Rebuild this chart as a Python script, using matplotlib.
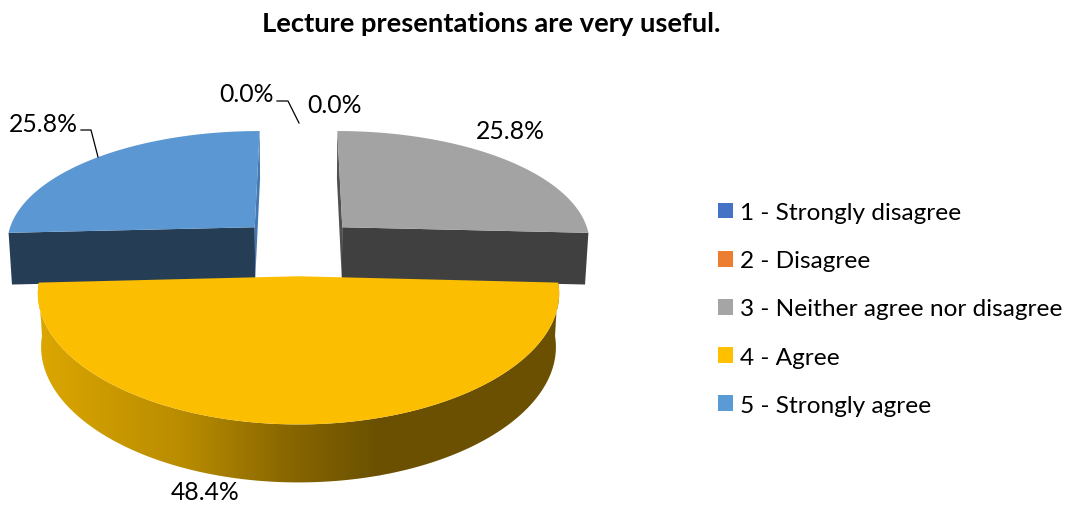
import numpy as np
import matplotlib
matplotlib.use("Agg")
import matplotlib.pyplot as plt
from matplotlib.colors import LinearSegmentedColormap
from matplotlib.patches import Patch, Polygon

plt.rcParams['font.family'] = ['Lato', 'DejaVu Sans']

# Data
categories = ["1 - Strongly disagree", "2 - Disagree", "3 - Neither agree nor disagree",
              "4 - Agree", "5 - Strongly agree"]
values = [0.0, 0.0, 25.8, 48.4, 25.8]
colors = ["#4472C4", "#ED7D31", "#A3A3A3", "#FBBE00", "#5B98D3"]
wall_colors = ["#2F4F88", "#A5561F", "#404040", "#6B5000", "#253E56"]
side_colors = ["#2F4F88", "#A5561F", "#505050", "#6B5000", "#4478B0"]
title = "Lecture presentations are very useful."

# 3D look of the pie (fake camera, in pixels)
CX, CY = 298.5, 247.5
RX, RY = 250, 116
DEPTH = 52.2
PERSP_X, PERSP_Y, PERSP_WALL, PERSP_Z = 0.13, 0.15, 0.08, 0.012
EXPLODE = 0.247

side_cmap = LinearSegmentedColormap.from_list(
    "side", [(0, "#DBA600"), (0.42, "#B98C00"), (0.72, "#8A6800"), (1, "#6A5000")])


def project(x, y, z=0.0):
    sx = CX + RX * x / (1 + PERSP_X * y + PERSP_Z * z)
    sy = CY - RY * y / (1 + PERSP_Y * y) + DEPTH * z / (1 + PERSP_WALL * y)
    return sx, sy


def wedge_xy(a0, a1, explode_x, explode_y, n=200):
    a = np.radians(np.linspace(a0, a1, n))
    return np.sin(a) + explode_x, np.cos(a) + explode_y


fig = plt.figure(figsize=(10.69, 5.06), dpi=100)
ax = fig.add_axes([0, 0, 1, 1])

# Slices, clockwise from the top
angles = np.cumsum([0] + values) / sum(values) * 360
order = [i for i, v in enumerate(values) if v > 0]
order.sort(key=lambda i: -np.cos(np.radians((angles[i] + angles[i + 1]) / 2)))
for i in order:
    a0, a1 = angles[i], angles[i + 1]
    mid = np.radians((a0 + a1) / 2)
    ex, ey = EXPLODE * np.sin(mid), EXPLODE * np.cos(mid)
    xs, ys = wedge_xy(a0, a1, ex, ey)

    if np.cos(mid) > 0:
        # cut faces of the two back slices
        for edge in (0, -1):
            is_front = np.cos(np.radians(a0 if edge == 0 else a1)) < 0
            pts = [project(ex, ey), project(xs[edge], ys[edge]),
                   project(xs[edge], ys[edge], 1), project(ex, ey, 1)]
            ax.add_patch(Polygon(pts, fc=wall_colors[i] if is_front else side_colors[i],
                                 ec="none", zorder=2))
    else:
        # outer rim with the gradient, clipped to the rim outline
        tx, ty = project(xs, ys)
        bx, by = project(xs, ys, 1)
        rim = Polygon(np.c_[np.r_[tx, bx[::-1]], np.r_[ty, by[::-1]]], fc="none", ec="none",
                      transform=ax.transData)
        ax.add_patch(rim)
        img = ax.imshow(np.linspace(0, 1, 340)[None, :], cmap=side_cmap, aspect="auto",
                        extent=(40, 380, 500, 250), zorder=3)
        img.set_clip_path(rim)
        # what lies beyond the two ends of the gradient
        rest = ax.imshow(np.ones((1, 2)), cmap=side_cmap, vmin=0, vmax=1, aspect="auto",
                         extent=(379, 600, 500, 250), zorder=3)
        rest.set_clip_path(rim)
        edge_left = ax.imshow(np.zeros((1, 2)), cmap=side_cmap, vmin=0, vmax=1, aspect="auto",
                              extent=(20, 41, 500, 250), zorder=3)
        edge_left.set_clip_path(rim)

    px, py = project(np.r_[ex, xs], np.r_[ey, ys])
    ax.add_patch(Polygon(np.c_[px, py], fc=colors[i], ec="none", zorder=4))

ax.set_xlim(0, 1069)
ax.set_ylim(506, 0)
ax.axis("off")

# Labels
ax.text(491, 24, title, fontsize=19.7, fontweight="bold", ha="center", va="center", color="black")
label_style = dict(fontsize=17.8, ha="center", va="center", color="black", zorder=5)
ax.text(246, 94, f"{values[0]:.1f}%", **label_style)
ax.text(334, 105, f"{values[1]:.1f}%", **label_style)
ax.text(510, 131, f"{values[2]:.1f}%", **label_style)
ax.text(205, 493, f"{values[3]:.1f}%", **label_style)
ax.text(43, 124, f"{values[4]:.1f}%", **label_style)

# Leader lines
ax.plot([277, 288, 299], [102, 102, 124], color="black", lw=0.9, zorder=5)
ax.plot([81, 91, 98], [131, 131, 158], color="black", lw=0.9, zorder=5)

# Legend
handles = [Patch(fc=c, ec="none") for c in ["#4472C4", "#ED7D31", "#A5A5A5", "#FFC000", "#5B9BD5"]]
ax.legend(handles, categories, loc="center left", bbox_to_anchor=(718 / 1069, 1 - 310 / 506),
          frameon=False, fontsize=17.6, handlelength=0.61, handleheight=0.61, handletextpad=0.29,
          labelspacing=1.11, borderpad=0, borderaxespad=0)

fig.savefig("out.png", dpi=100)
